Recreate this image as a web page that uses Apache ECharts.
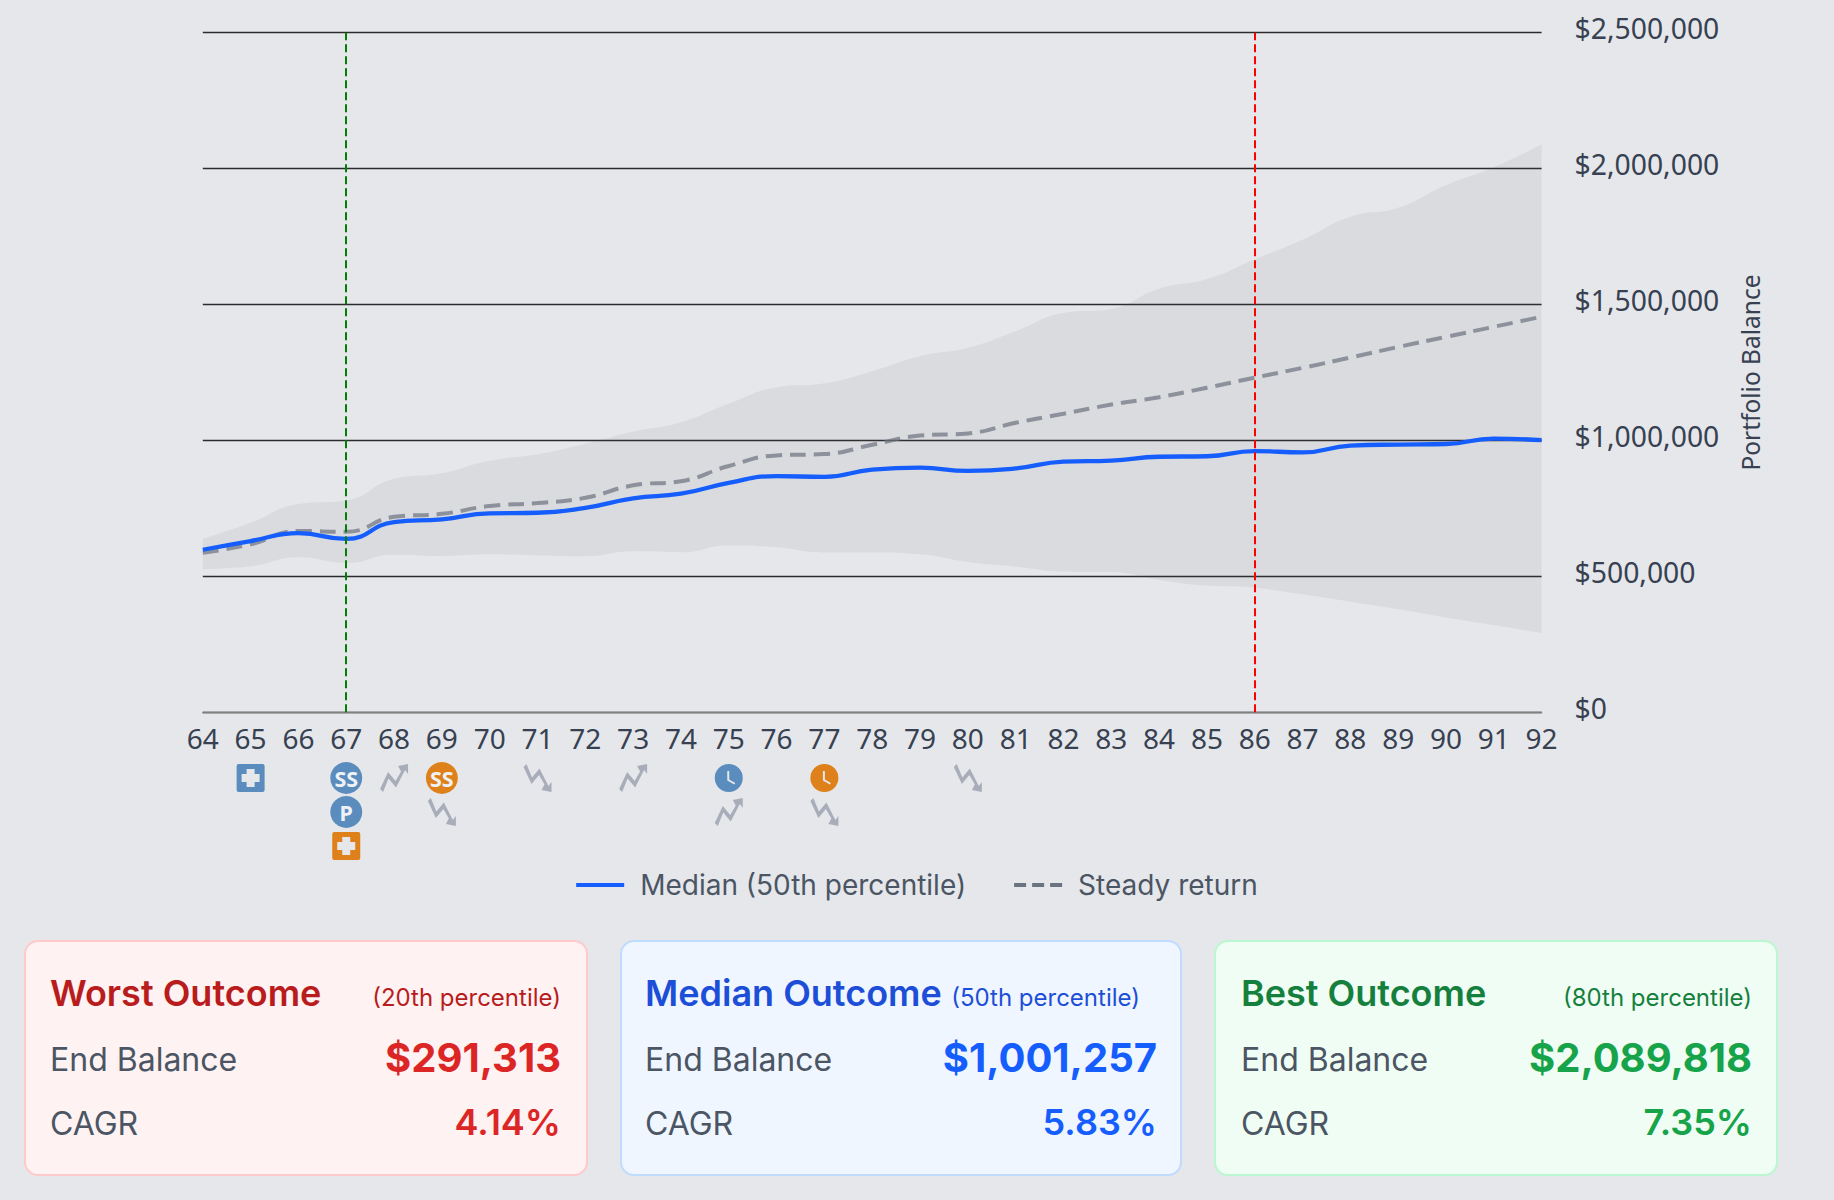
<!DOCTYPE html>
<html>
<head>
<meta charset="utf-8">
<script src="https://cdn.jsdelivr.net/npm/echarts@6/dist/echarts.min.js"></script>
<style>
html,body{margin:0;padding:0;background:#e5e7eb;width:1834px;height:1200px;overflow:hidden;font-family:Inter,sans-serif}
#chart{position:absolute;left:0;top:0;width:1834px;height:930px}
.card{position:absolute;top:940px;height:236px;box-sizing:border-box;border:2px solid;border-radius:14px}
.row{position:absolute;left:24px;right:25px;display:flex;justify-content:space-between;align-items:baseline;white-space:nowrap}
.t{font-size:36px;font-weight:600}
.s{font-size:24px;font-weight:400}
.l{font-size:32px;color:#4b5563}
.v{font-size:40px;font-weight:700;position:relative;top:1px}
.c{font-size:36px;font-weight:600}
.r1{top:29px}.r2{top:90px}.r3{top:158px}
.red{left:24px;width:564px;background:#fef2f2;border-color:#fecaca}
.blue{left:620px;width:562px;background:#eff6ff;border-color:#bfdbfe}
.blue .row{left:23px;right:23px}
.blue .s{margin-right:17px}
.green{left:1214px;width:564px;background:#f0fdf4;border-color:#bbf7d0}
.green .row{left:25px;right:24px}
.red .t,.red .s{color:#b91c1c}.red .v,.red .c{color:#dc2626}
.blue .t,.blue .s{color:#1d4ed8}.blue .v,.blue .c{color:#155dfc}
.green .t,.green .s{color:#15803d}.green .v,.green .c{color:#16a34a}
</style>
</head>
<body>
<div id="chart"></div>
<div class="card red"><div class="row r1"><span class="t">Worst Outcome</span><span class="s">(20th percentile)</span></div><div class="row r2"><span class="l">End Balance</span><span class="v">$291,313</span></div><div class="row r3"><span class="l">CAGR</span><span class="c">4.14%</span></div></div>
<div class="card blue"><div class="row r1"><span class="t">Median Outcome</span><span class="s">(50th percentile)</span></div><div class="row r2"><span class="l">End Balance</span><span class="v">$1,001,257</span></div><div class="row r3"><span class="l">CAGR</span><span class="c">5.83%</span></div></div>
<div class="card green"><div class="row r1"><span class="t">Best Outcome</span><span class="s">(80th percentile)</span></div><div class="row r2"><span class="l">End Balance</span><span class="v">$2,089,818</span></div><div class="row r3"><span class="l">CAGR</span><span class="c">7.35%</span></div></div>
<script>
var ages = [64,65,66,67,68,69,70,71,72,73,74,75,76,77,78,79,80,81,82,83,84,85,86,87,88,89,90,91,92];
var upperBand = [638000,697000,766000,779000,859000,879000,925000,949000,988000,1032000,1067000,1135000,1195000,1210000,1255000,1310000,1341000,1402000,1469000,1484000,1558000,1594000,1666000,1738000,1823000,1856000,1939000,2005000,2089818];
var lowerBand = [527000,537000,570000,550000,580000,575000,581000,577000,574000,592000,589000,614000,607000,588000,588000,581000,553000,536000,518000,516000,487000,466000,458000,434000,407000,380000,349000,321000,291313];
var median = [598000,630000,659000,638000,700000,710000,732000,734000,752000,787000,804000,844000,869000,866000,893000,900000,888000,897000,922000,926000,940000,942000,961000,956000,981000,985000,987000,1006600,1001257];
var steady = [587000,618000,667000,664000,719000,730000,759000,770000,789000,835000,850000,906000,945000,950000,984000,1018000,1026000,1065000,1098000,1132000,1159000,1194000,1231000,1267000,1305000,1344000,1381000,1418000,1455000];
var retireAge = 67;
var endAge = 86;
var eventAges = [65,67,67,67,68,69,69,71,73,75,75,77,77,80];
var eventRows = [0,0,1,2,0,0,1,0,0,0,1,0,1,0];
var eventKinds = ['medB','ssB','pB','medO','up','ssO','down','down','up','clockB','up','clockO','down','down'];

var PATH_MED = 'path://M2 0 H26 Q28 0 28 2 V26 Q28 28 26 28 H2 Q0 28 0 26 V2 Q0 0 2 0 Z M10 5 V10 H5 V18 H10 V23 H18 V18 H23 V10 H18 V5 Z';
var PATH_CLOCK = 'path://M14 0 A14 14 0 1 1 14 28 A14 14 0 1 1 14 0 Z M12.5 7 L12.5 16.5 L19.5 20.5 L20.5 19 L14.5 15.5 L14.5 7 Z';
var PATH_UP = 'path://M0 25 L8 8 L15.5 17 L21 7.5 L18 2 L28 0 L28 10 L25 6 L16 23.5 L8.5 14.5 L3 28 Z';
var PATH_DOWN = 'path://M0 3 L8 20 L15.5 11 L21 20.5 L18 26 L28 28 L28 18 L25 22 L16 4.5 L8.5 13.5 L3 0 Z';
var BLUE='#5b8cbe', ORANGE='#df811b', GREY='#a8adb9';
var kinds = {
  medB:{symbol:PATH_MED,size:28,color:BLUE}, medO:{symbol:PATH_MED,size:28,color:ORANGE},
  ssB:{symbol:'circle',size:32,color:BLUE,text:'SS'}, ssO:{symbol:'circle',size:32,color:ORANGE,text:'SS'},
  pB:{symbol:'circle',size:32,color:BLUE,text:'P'},
  clockB:{symbol:PATH_CLOCK,size:28,color:BLUE}, clockO:{symbol:PATH_CLOCK,size:28,color:ORANGE},
  up:{symbol:PATH_UP,size:28,color:GREY}, down:{symbol:PATH_DOWN,size:28,color:GREY}
};
var eventData = eventAges.map(function(a,i){
  var k = kinds[eventKinds[i]];
  return {value:[String(a),eventRows[i]],symbol:k.symbol,symbolSize:k.size,itemStyle:{color:k.color,opacity:1},
    label:{show:!!k.text,formatter:k.text||'',position:'inside',color:'#eef2f7',fontFamily:'Noto Sans',fontWeight:'bold',fontSize:21.5}};
});
var cats = ages.map(String);
var FONT = '"Noto Sans","Open Sans",sans-serif';
var SMOOTH = 0.5;
var chart = echarts.init(document.getElementById('chart'),null,{renderer:'svg'});
chart.setOption({
  animation:false,
  backgroundColor:'transparent',
  grid:[
    {left:202.8,right:292.4,top:32.7,height:679.6},
    {left:202.8,right:292.4,top:761,height:102}
  ],
  legend:{
    top:866,left:'center',itemWidth:48,itemHeight:16,itemGap:48,
    textStyle:{fontFamily:'Inter',fontSize:28,color:'#4b5563',padding:[0,0,0,11]},
    data:[{name:'Median (50th percentile)',icon:'path://M0 0H48V4H0Z',itemStyle:{color:'#155dfc'}},
          {name:'Steady return',icon:'path://M0 0H12V4H0Z M18 0H30V4H18Z M36 0H48V4H36Z',itemStyle:{color:'#6b7280'}}]
  },
  xAxis:[
    {type:'category',gridIndex:0,data:cats,boundaryGap:false,
     axisLine:{lineStyle:{color:'#808080',width:1.4}},axisTick:{show:false},splitLine:{show:false},
     axisLabel:{interval:0,margin:12,fontFamily:FONT,fontSize:28,color:'#374151'}},
    {type:'category',gridIndex:1,data:cats,boundaryGap:false,show:false}
  ],
  yAxis:[
    {type:'value',gridIndex:0,position:'right',min:0,max:2500000,interval:500000,
     axisLine:{show:false},axisTick:{show:false},
     splitLine:{lineStyle:{color:'#2b2b2b',width:1.3}},
     axisLabel:{margin:33,fontFamily:FONT,fontSize:28.3,color:'#374151',verticalAlign:'bottom',lineHeight:9,
       formatter:function(v){return '$'+v.toLocaleString('en-US');}},
     name:'Portfolio Balance',nameLocation:'middle',nameRotate:90,nameGap:196,
     nameTextStyle:{fontFamily:FONT,fontSize:24.5,color:'#374151'}},
    {type:'value',gridIndex:1,min:-0.5,max:2.5,inverse:true,show:false}
  ],
  series:[
    {name:'bandBase',type:'line',stack:'band',data:lowerBand,smooth:SMOOTH,showSymbol:false,silent:true,
     lineStyle:{width:0,opacity:0},areaStyle:{opacity:0}},
    {name:'bandRange',type:'line',stack:'band',data:upperBand.map(function(u,i){return u-lowerBand[i];}),smooth:SMOOTH,showSymbol:false,silent:true,
     lineStyle:{width:0,opacity:0},areaStyle:{color:'#646464',opacity:0.09}},
    {name:'Steady return',type:'line',data:steady,smooth:SMOOTH,showSymbol:false,symbol:'none',z:3,
     lineStyle:{color:'#6b7280',opacity:0.7,width:4,type:[16,8]}},
    {name:'Median (50th percentile)',type:'line',data:median,smooth:SMOOTH,showSymbol:false,symbol:'none',z:4,
     lineStyle:{color:'#155dfc',width:4.3},itemStyle:{color:'#155dfc'}},
    {name:'markers',type:'line',data:[],z:5,silent:true,
     markLine:{silent:true,symbol:'none',label:{show:false},animation:false,
       data:[
        {xAxis:String(retireAge),lineStyle:{color:'#008000',width:2,type:[8,4],opacity:1}},
        {xAxis:String(endAge),lineStyle:{color:'#ff0000',width:2,type:[8,4],opacity:1}}
       ]}},
    {name:'events',type:'scatter',xAxisIndex:1,yAxisIndex:1,data:eventData,silent:true}
  ]
});
</script>
</body>
</html>
